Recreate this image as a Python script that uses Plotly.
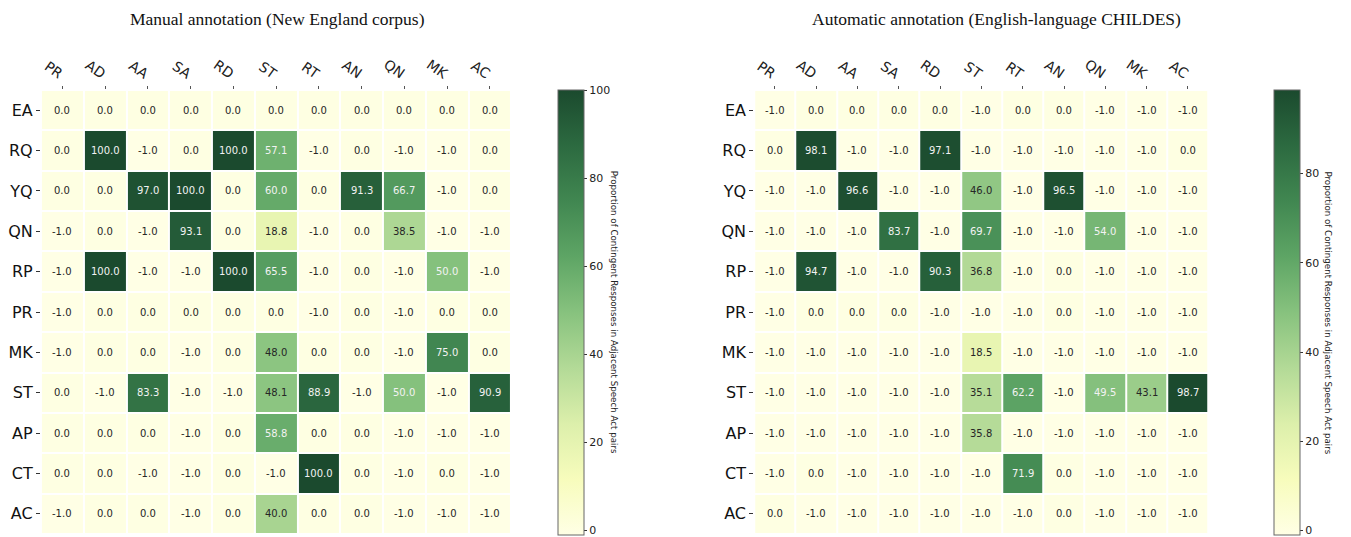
import plotly.graph_objects as go

cols = ["PR", "AD", "AA", "SA", "RD", "ST", "RT", "AN", "QN", "MK", "AC"]
rows = ["EA", "RQ", "YQ", "QN", "RP", "PR", "MK", "ST", "AP", "CT", "AC"]

manual = [
    [0, 0, 0, 0, 0, 0, 0, 0, 0, 0, 0],
    [0, 100, -1, 0, 100, 57.1, -1, 0, -1, -1, 0],
    [0, 0, 97.0, 100, 0, 60.0, 0, 91.3, 66.7, -1, 0],
    [-1, 0, -1, 93.1, 0, 18.8, -1, 0, 38.5, -1, -1],
    [-1, 100, -1, -1, 100, 65.5, -1, 0, -1, 50.0, -1],
    [-1, 0, 0, 0, 0, 0, -1, 0, -1, 0, 0],
    [-1, 0, 0, -1, 0, 48.0, 0, 0, -1, 75.0, 0],
    [0, -1, 83.3, -1, -1, 48.1, 88.9, -1, 50.0, -1, 90.9],
    [0, 0, 0, -1, 0, 58.8, 0, 0, -1, -1, -1],
    [0, 0, -1, -1, 0, -1, 100, 0, -1, 0, -1],
    [-1, 0, 0, -1, 0, 40.0, 0, 0, -1, -1, -1],
]

automatic = [
    [-1, 0, 0, 0, 0, -1, 0, 0, -1, -1, -1],
    [0, 98.1, -1, -1, 97.1, -1, -1, -1, -1, -1, 0],
    [-1, -1, 96.6, -1, -1, 46.0, -1, 96.5, -1, -1, -1],
    [-1, -1, -1, 83.7, -1, 69.7, -1, -1, 54.0, -1, -1],
    [-1, 94.7, -1, -1, 90.3, 36.8, -1, 0, -1, -1, -1],
    [-1, 0, 0, 0, -1, -1, -1, 0, -1, -1, -1],
    [-1, -1, -1, -1, -1, 18.5, -1, -1, -1, -1, -1],
    [-1, -1, -1, -1, -1, 35.1, 62.2, -1, 49.5, 43.1, 98.7],
    [-1, -1, -1, -1, -1, 35.8, -1, -1, -1, -1, -1],
    [-1, 0, -1, -1, -1, -1, 71.9, 0, -1, -1, -1],
    [0, -1, -1, -1, -1, -1, -1, 0, -1, -1, -1],
]

titles = ["Manual annotation (New England corpus)",
          "Automatic annotation (English-language CHILDES)"]
cbar_title = "Proportion of Contingent Responses in Adjacent Speech Act pairs"

colorscale = [
    [0.0, "#ffffe5"], [0.125, "#f7fcbc"], [0.25, "#dcefab"],
    [0.375, "#b3da97"], [0.5, "#87c27e"], [0.625, "#5ea565"],
    [0.75, "#418751"], [0.875, "#2c6a40"], [1.0, "#1b4a2e"],
]

W, H = 1351, 537
OFF = 8  # page body margin
def px_x(p): return (p - OFF) / W
def px_y(p): return 1 - (p - OFF) / H

fig = go.Figure()

panels = [
    dict(data=manual, xa="x", ya="y", cbx=555, zmax=100,
         ticks=[0, 20, 40, 60, 80, 100], title_x=273, cbt_x=612),
    dict(data=automatic, xa="x2", ya="y2", cbx=1274, zmax=98.7,
         ticks=[0, 20, 40, 60, 80], title_x=995, cbt_x=1328),
]

grid_top, grid_bot = 90, 534
cb_top, cb_bot = 90, 535

for i, p in enumerate(panels):
    fig.add_trace(go.Heatmap(
        z=p["data"], x=cols, y=rows, xaxis=p["xa"], yaxis=p["ya"],
        zmin=-1, zmax=p["zmax"], colorscale=colorscale,
        xgap=2, ygap=2, hoverinfo="skip",
        colorbar=dict(
            x=px_x(p["cbx"]), xanchor="left", xpad=0, ypad=0,
            y=px_y(cb_top), yanchor="top", len=(cb_bot - cb_top) / H, lenmode="fraction",
            thickness=26, thicknessmode="pixels",
            outlinewidth=1, outlinecolor="#666666",
            tickvals=p["ticks"], ticks="outside", ticklen=3, tickcolor="#333333",
            tickfont=dict(family="DejaVu Sans", size=11, color="#222222"),
        ),
    ))
    for r, row in enumerate(rows):
        for c, col in enumerate(cols):
            v = p["data"][r][c]
            fig.add_annotation(
                x=col, y=row, xref=p["xa"], yref=p["ya"], text=f"{v:.1f}",
                showarrow=False,
                font=dict(family="DejaVu Sans", size=10,
                          color="#f2f2f2" if v >= 49 else "#262626"),
            )
    fig.add_annotation(
        x=px_x(p["title_x"]), y=1.0, xref="paper", yref="paper",
        text=titles[i], showarrow=False, xanchor="center", yanchor="top",
        borderpad=0,
        font=dict(family="Liberation Serif", size=17.5, color="#111111"),
    )
    fig.add_annotation(
        x=px_x(p["cbt_x"]), y=px_y((cb_top + cb_bot) / 2), xref="paper", yref="paper",
        text=cbar_title, showarrow=False, textangle=90, xanchor="center", yanchor="middle",
        font=dict(family="DejaVu Sans", size=8.7, color="#222222"),
    )

axis_common_x = dict(side="top", tickangle=35, ticks="outside", ticklen=3,
                     tickcolor="#555555", showgrid=False, zeroline=False, showline=False,
                     tickfont=dict(family="DejaVu Sans", size=14, color="#222222"))
axis_common_y = dict(autorange="reversed", ticks="outside", ticklen=4,
                     tickcolor="#333333", showgrid=False, zeroline=False, showline=False,
                     tickfont=dict(family="DejaVu Sans", size=16, color="#111111"))

fig.update_layout(
    width=W, height=H,
    margin=dict(l=0, r=0, t=0, b=0),
    paper_bgcolor="white", plot_bgcolor="white",
    showlegend=False,
    xaxis=dict(domain=[px_x(36), px_x(508)], anchor="y", **axis_common_x),
    yaxis=dict(domain=[px_y(grid_bot), px_y(grid_top)], anchor="x", **axis_common_y),
    xaxis2=dict(domain=[px_x(752), px_x(1208)], anchor="y2", **axis_common_x),
    yaxis2=dict(domain=[px_y(grid_bot), px_y(grid_top)], anchor="x2", **axis_common_y),
)

fig.write_html("out.html")
